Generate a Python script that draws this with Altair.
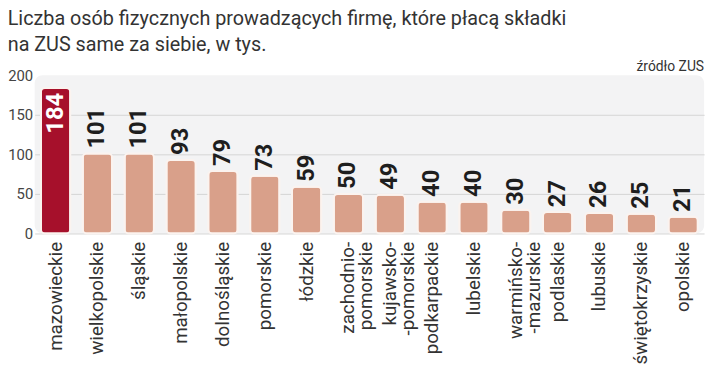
import altair as alt
import pandas as pd

regions = ["mazowieckie", "wielkopolskie", "śląskie", "małopolskie", "dolnośląskie",
           "pomorskie", "łódzkie", "zachodnio-\npomorskie", "kujawsko-\n-pomorskie",
           "podkarpackie", "lubelskie", "warmińsko-\n-mazurskie", "podlaskie", "lubuskie",
           "świętokrzyskie", "opolskie"]
values = [184, 101, 101, 93, 79, 73, 59, 50, 49, 40, 40, 30, 27, 26, 25, 21]
highlight = ["mazowieckie"]
y_ticks = [0, 50, 100, 150, 200]
title_lines = ["Liczba osób fizycznych prowadzących firmę, które płacą składki",
               "na ZUS same za siebie, w tys."]
source_text = ["źródło ZUS"]

df = pd.DataFrame({"region": regions, "value": values})
df["kind"] = ["top" if r in highlight else "other" for r in regions]
src = pd.DataFrame({"t": source_text})

W, H = 677, 160
NUM_FONT = "Roboto"

x = alt.X("region:N", sort=regions,
          scale=alt.Scale(paddingInner=0.3, paddingOuter=0.15),
          axis=alt.Axis(title=None, labelAngle=270, labelFont="Roboto", labelFontSize=19,
                        labelColor="#333333", labelPadding=8, ticks=False, domain=False,
                        labelOverlap=False, labelExpr="split(datum.label, '\\n')",
                        labelLineHeight=18, grid=False))
y = alt.Y("value:Q", scale=alt.Scale(domain=[0, 200], nice=False, zero=True),
          axis=alt.Axis(title=None, values=y_ticks, tickCount=len(y_ticks), labelFont="Roboto",
                        labelFontSize=15, labelColor="#444444", labelPadding=2, ticks=False,
                        domain=False, labelOverlap=False, labelFlush=False, grid=True,
                        gridColor="#d4d4d4", gridWidth=1,
                        gridOpacity={"condition": {"test": "datum.value == 200", "value": 0}, "value": 1}))

bars = alt.Chart(df).mark_bar(cornerRadius=4, stroke="#fbf3ef", strokeWidth=2).encode(
    x=x, y=y,
    color=alt.Color("kind:N", scale=alt.Scale(domain=["top", "other"], range=["#a6102b", "#d9a08a"]), legend=None),
)

labels_out = alt.Chart(df).transform_filter("datum.kind == 'other'").mark_text(
    angle=270, align="left", baseline="middle", dx=5, font=NUM_FONT, fontWeight="bold",
    fontSize=24, color="#1e1e1e").encode(x=x, y=y, text="value:Q")

labels_in = alt.Chart(df).transform_filter("datum.kind == 'top'").mark_text(
    angle=270, align="right", baseline="middle", dx=-5, font=NUM_FONT, fontWeight="bold",
    fontSize=24, color="#ffffff").encode(x=x, y=y, text="value:Q")

source = alt.Chart(src).mark_text(align="right", baseline="alphabetic", font="Roboto",
                                  fontSize=14, color="#333333").encode(
    x=alt.value(W), y=alt.value(-4), text="t:N")

chart = alt.layer(bars, labels_out, labels_in, source).properties(
    width=W, height=H,
    title=alt.Title(title_lines, anchor="start", frame="bounds", font="Roboto", fontSize=20,
                    fontWeight="normal", color="#333333", lineHeight=26, offset=6),
    autosize=alt.AutoSizeParams(type="none"),
    padding={"left": 27, "top": 66, "right": 8, "bottom": 130},
).configure_view(fill="#f3f3f4", stroke=None, cornerRadius=8)

chart.save("out.html", embed_options={"renderer": "svg", "actions": False})
